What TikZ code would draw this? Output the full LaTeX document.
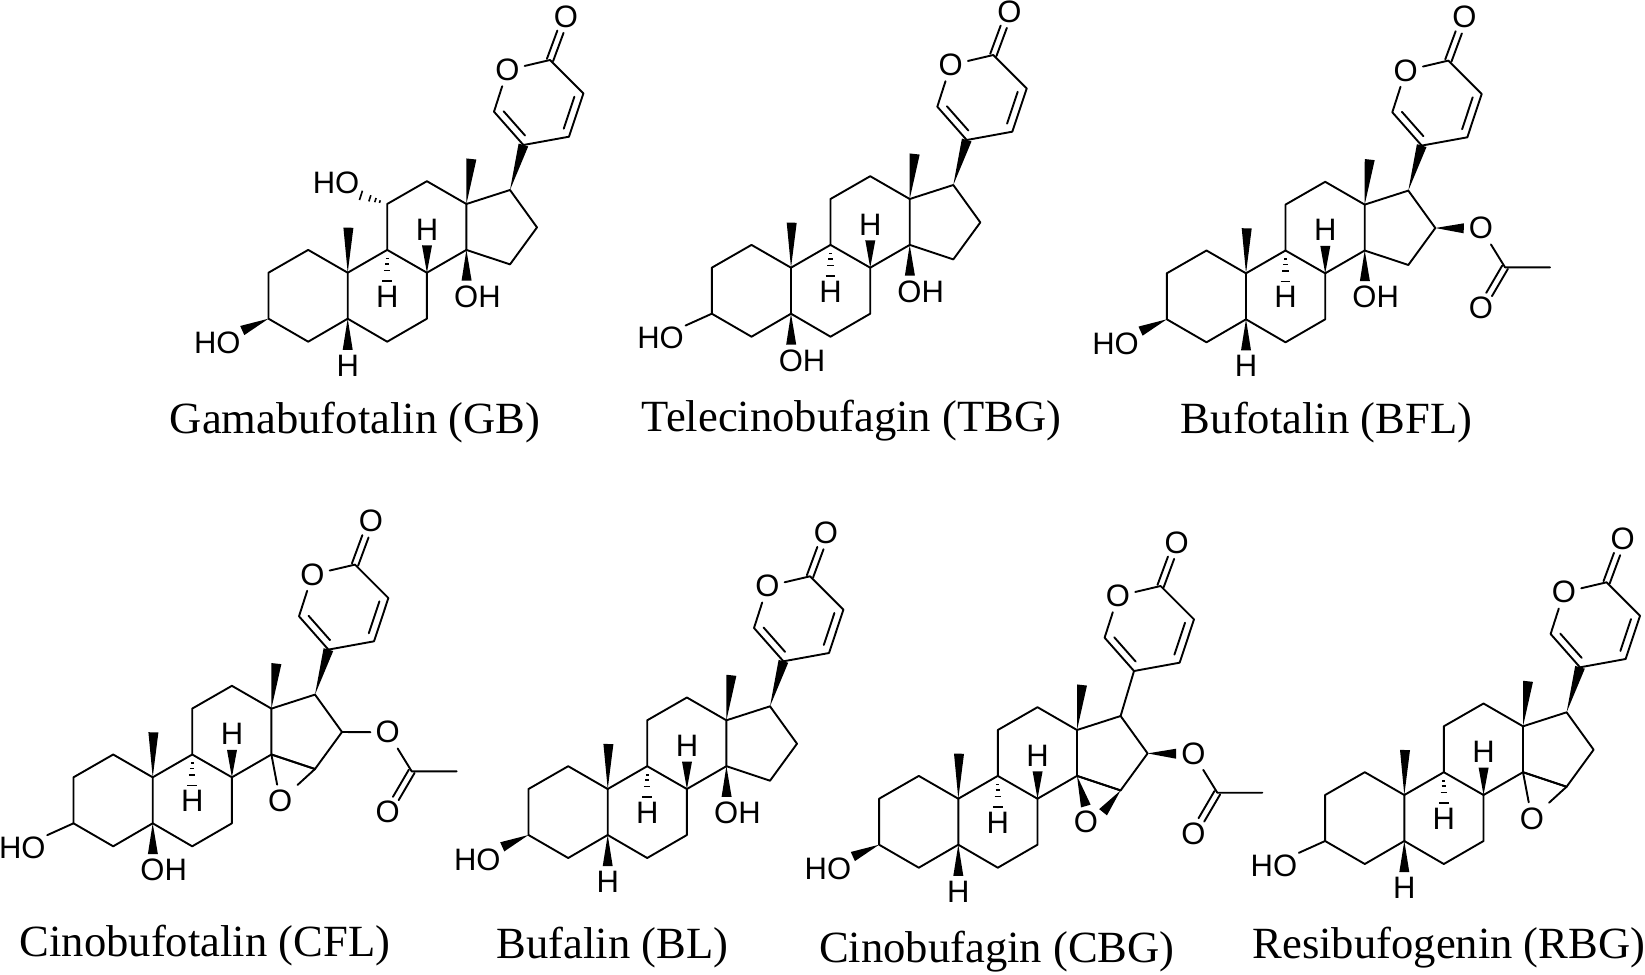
\documentclass[tikz,border=0pt]{standalone}
\usepackage{fontspec}
\setmainfont{Liberation Serif}
\newfontfamily\atomfont{Liberation Sans}
\usetikzlibrary{calc}

\tikzset{
  bond/.style={line width=1.9pt, line join=round, line cap=round},
  atom/.style={font=\atomfont\fontsize{31}{32}\selectfont, inner sep=5pt},
  hydroxyl/.style={atom, inner sep=1.5pt},
  molname/.style={font=\fontsize{44.6}{50}\selectfont, anchor=base, inner sep=0pt}
}

% narrow end at #1, wide end at #2
\newcommand{\wedgebond}[2]{\fill ($(#2)!5pt!90:(#1)$) -- (#1) -- ($(#2)!5pt!-90:(#1)$) -- cycle;}
\newcommand{\hashbond}[2]{\foreach \t in {.28,.45,.66,1}
  \draw[line width=1.6pt] ($(#1)!\t!($(#2)!4.9pt!90:(#1)$)$) -- ($(#1)!\t!($(#2)!4.9pt!-90:(#1)$)$);}
\newcommand{\ringdouble}[2]{\draw[bond, shorten <=6pt, shorten >=6pt] ($(#1)!7.5pt!90:(#2)$) -- ($(#2)!7.5pt!-90:(#1)$);}
\newcommand{\carbonyl}[2]{\draw[bond, shorten >=16pt] ($(#1)!3.3pt!90:(#2)$) -- ($(#2)!3.3pt!-90:(#1)$);
  \draw[bond, shorten >=16pt] ($(#1)!3.3pt!-90:(#2)$) -- ($(#2)!3.3pt!90:(#1)$);}

% rings, methyls and the two ring hydrogens, origin at c10
\newcommand{\bufbase}{
  \coordinate (c10) at (0,0);
  \foreach \n/\x/\y in {c1/-39.5/-22.8, c2/-79.2/0, c3/-79.2/46, c4/-39.5/69, c5/0/46,
    c6/39.5/69, c7/79.2/46, c8/79.2/0, c9/39.5/-22.8, c11/39.5/-68.7, c12/79.2/-91.5,
    c13/118.7/-68.7, c14/118.7/-22.8, c15/162.3/-8.3, c16/189.3/-45.3, c17/162.3/-82.7,
    p1/175.7/-127.7, p2/146.3/-161, p4/202.3/-212.7, p6/235.7/-179.3, p7/221.3/-136,
    m10/0.7/-45, m13/123.7/-113.7}
    \coordinate (\n) at (\x,\y);
  \node[atom] (p3) at (159.7,-202.7) {O};
  \node[atom] (p5) at (218.3,-256) {O};
  \node[atom] (h8) at (79.3,-43.3) {H};
  \node[atom] (h9) at (39.5,24) {H};
  \draw[bond] (c10) -- (c1) -- (c2) -- (c3) -- (c4) -- (c5) -- cycle;
  \draw[bond] (c5) -- (c6) -- (c7) -- (c8) -- (c9) -- (c10);
  \draw[bond] (c9) -- (c11) -- (c12) -- (c13) -- (c14) -- (c8);
  \draw[bond] (c14) -- (c15) -- (c16) -- (c17) -- (c13);
  \draw[bond] (p1) -- (p2) -- (p3);
  \draw[bond] (p3) -- (p4) -- (p6) -- (p7) -- (p1);
  \ringdouble{p2}{p1}
  \ringdouble{p7}{p6}
  \carbonyl{p4}{p5}
  \wedgebond{c10}{m10}
  \wedgebond{c13}{m13}
  \wedgebond{c8}{h8.south}
  \hashbond{c9}{h9.north}
}
\newcommand{\hfive}{\node[atom] (h5) at (0,93) {H}; \wedgebond{c5}{h5.north}}
\newcommand{\ohwedge}[2]{\coordinate (#2t) at ($(#2.north west)!.31!(#2.north east)$); \wedgebond{#1}{#2t}}
\newcommand{\ohfive}{\node[atom] (oh5) at (11,93) {OH}; \ohwedge{c5}{oh5}}
\newcommand{\ohfourteen}{\node[atom] (oh14) at (129.7,24) {OH}; \ohwedge{c14}{oh14}}
\newcommand{\hoplain}{\node[hydroxyl] (ho3) at (-130.4,70.5) {HO}; \draw[bond] (c3) -- (ho3.north east);}
\newcommand{\hobold}{\node[hydroxyl] (ho3) at (-130.4,70.5) {HO}; \wedgebond{c3}{ho3.north east}}
\newcommand{\acetyl}{
  \node[atom] (o16) at (235,-45) {O};
  \node[atom] (o2) at (235,35) {O};
  \coordinate (ac) at (259,-6);
  \coordinate (me) at (304,-6);
  \draw[bond] (o16) -- (ac) -- (me);
  \carbonyl{ac}{o2}
}
\newcommand{\epoxy}{
  \node[atom] (eo) at (127.5,23.5) {O};
  \draw[bond] (c14) -- (c15);
}

\begin{document}
\begin{tikzpicture}[x=1pt, y=-1pt]
\useasboundingbox (0,0) rectangle (1645,974);

% Gamabufotalin
\begin{scope}[shift={(347.7,272.7)}, name prefix=gb-]
\bufbase
\wedgebond{c17}{p1}
\hobold
\hfive
\ohfourteen
\node[hydroxyl] (ho11) at (-11.7,-90) {HO};
\hashbond{c11}{ho11.south east}
\end{scope}
\node[molname] (gbname) at (355,433) {Gamabufotalin (GB)};

% Telecinobufagin
\begin{scope}[shift={(791,267.7)}, name prefix=tbg-]
\bufbase
\wedgebond{c17}{p1}
\hoplain
\ohfive
\ohfourteen
\end{scope}
\node[molname] (tbgname) at (851.5,431) {Telecinobufagin (TBG)};

% Bufotalin
\begin{scope}[shift={(1246,273.3)}, name prefix=bfl-]
\bufbase
\wedgebond{c17}{p1}
\hobold
\hfive
\ohfourteen
\acetyl
\wedgebond{c16}{o16.west}
\end{scope}
\node[molname] (bflname) at (1326.5,433) {Bufotalin (BFL)};

% Cinobufotalin
\begin{scope}[shift={(152.7,777.3)}, name prefix=cfl-]
\bufbase
\wedgebond{c17}{p1}
\hoplain
\ohfive
\epoxy
\draw[bond] (c14) -- (eo) -- (c15);
\acetyl
\draw[bond] (c16) -- (o16);
\end{scope}
\node[molname] (cflname) at (205,956) {Cinobufotalin (CFL)};

% Bufalin
\begin{scope}[shift={(607.7,789)}, name prefix=bl-]
\bufbase
\wedgebond{c17}{p1}
\hobold
\hfive
\ohfourteen
\end{scope}
\node[molname] (blname) at (612.5,958) {Bufalin (BL)};

% Cinobufagin
\begin{scope}[shift={(958.3,798.7)}, name prefix=cbg-]
\bufbase
\draw[bond] (c17) -- (p1);
\hobold
\hfive
\epoxy
\wedgebond{c14}{eo.north}
\wedgebond{c15}{eo.30}
\acetyl
\wedgebond{c16}{o16.west}
\end{scope}
\node[molname] (cbgname) at (997,962.7) {Cinobufagin (CBG)};

% Resibufogenin
\begin{scope}[shift={(1404.3,795)}, name prefix=rbg-]
\bufbase
\wedgebond{c17}{p1}
\hoplain
\hfive
\epoxy
\draw[bond] (c14) -- (eo) -- (c15);
\end{scope}
\node[molname] (rbgname) at (1449,958) {Resibufogenin (RBG)};

\end{tikzpicture}
\end{document}
